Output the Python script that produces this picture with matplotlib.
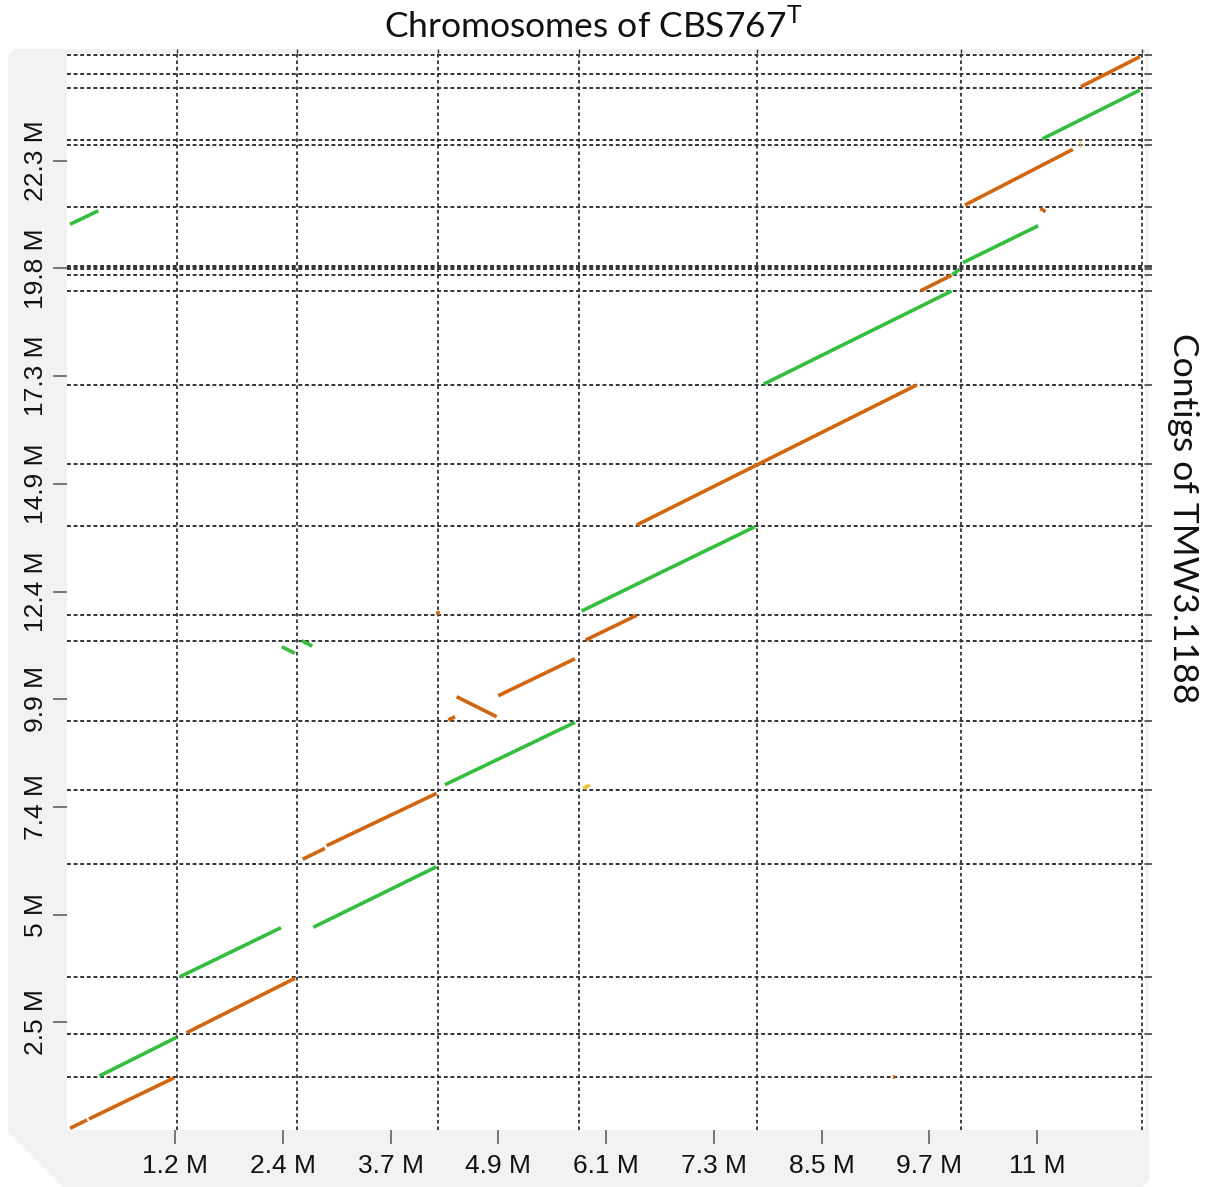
import matplotlib
matplotlib.use("Agg")
import matplotlib.pyplot as plt
from matplotlib import font_manager
from matplotlib.patches import Polygon

# ---- genome layout (Mb) ----
chrom_ends = [1.246, 2.600, 4.190, 5.785, 7.798, 10.097, 12.148]
contig_ends = [1.218, 2.207, 3.517, 6.115, 7.816, 9.409, 11.253, 11.839,
               13.897, 15.310, 17.126, 19.294, 19.662, 19.800, 19.830,
               19.860, 21.225, 22.637, 22.766, 23.966, 24.283, 24.724]

x_total = 12.18
y_total = 24.76

x_ticks = [1.218, 2.436, 3.654, 4.872, 6.090, 7.308, 8.526, 9.744, 10.962]
x_tick_labels = ['1.2 M', '2.4 M', '3.7 M', '4.9 M', '6.1 M', '7.3 M',
                 '8.5 M', '9.7 M', '11 M']
y_ticks = [2.476, 4.952, 7.428, 9.904, 12.380, 14.856, 17.332, 19.808, 22.284]
y_tick_labels = ['2.5 M', '5 M', '7.4 M', '9.9 M', '12.4 M', '14.9 M',
                 '17.3 M', '19.8 M', '22.3 M']

# ---- alignment blocks: (x_start, y_start, x_end, y_end) in Mb ----
orange_blocks = [
    (0.032, 0.039, 0.224, 0.230),
    (0.246, 0.253, 1.210, 1.202),
    (1.350, 2.237, 2.574, 3.487),
    (2.661, 6.223, 2.913, 6.476),
    (2.932, 6.536, 4.175, 7.740),
    (4.306, 9.425, 4.382, 9.501),
    (4.401, 9.961, 4.853, 9.501),
    (4.871, 9.984, 5.738, 10.834),
    (5.859, 11.264, 6.435, 11.832),
    (6.435, 13.908, 9.599, 17.126),
    (9.644, 19.294, 9.994, 19.650),
    (10.145, 21.264, 11.365, 22.545),
    (10.997, 21.189, 11.057, 21.111),
    (11.455, 23.984, 12.122, 24.674),
    (4.193, 11.830, 4.193, 11.940),
    (9.330, 1.218, 9.355, 1.222),
]
green_blocks = [
    (0.363, 1.241, 1.237, 2.131),
    (1.275, 3.524, 2.416, 4.651),
    (2.781, 4.660, 4.175, 6.053),
    (4.269, 7.938, 5.738, 9.372),
    (5.814, 11.931, 7.772, 13.869),
    (7.873, 17.149, 9.994, 19.287),
    (10.003, 19.662, 10.085, 19.790),
    (10.123, 19.940, 10.973, 20.789),
    (11.018, 22.782, 12.122, 23.908),
    (0.032, 20.821, 0.351, 21.133),
    (2.424, 11.110, 2.574, 10.959),
    (2.650, 11.248, 2.770, 11.126),
]
yellow_blocks = [
    (5.832, 7.855, 5.907, 7.931),
]
faint_blocks = [
    (11.444, 22.605, 11.444, 22.759),
]

ORANGE = '#d4650f'
GREEN = '#34be3d'
YELLOW = '#f2c12e'
GRID = '#333333'

names = {f.name for f in font_manager.fontManager.ttflist}
tick_family = 'Liberation Sans Narrow' if 'Liberation Sans Narrow' in names else 'Liberation Sans'
label_family = 'Lato' if 'Lato' in names else 'DejaVu Sans'

plt.rcParams['mathtext.fontset'] = 'custom'
plt.rcParams['mathtext.rm'] = label_family

W, H = 1210, 1187
fig = plt.figure(figsize=(W / 100, H / 100), dpi=100)
fig.patch.set_facecolor('white')


def fpt(px, py):
    return (px / W, 1 - py / H)


# light grey backing panel with a bevelled lower-left corner
panel_pts = [fpt(8, 56), fpt(14, 49), fpt(1149, 49), fpt(1149, 1181),
             fpt(1143, 1187), fpt(63, 1187), fpt(8, 1132)]
fig.patches.append(Polygon(panel_pts, closed=True, transform=fig.transFigure,
                           facecolor='#f2f2f2', edgecolor='none', zorder=-10))

ax = fig.add_axes([67.2 / W, (H - 1130) / H, 1077.8 / W, 1077 / H])
ax.set_zorder(1)
ax.set_facecolor('white')
ax.set_xlim(0, x_total)
ax.set_ylim(0, y_total)
for s in ax.spines.values():
    s.set_visible(False)

# boundary grid
for xb in chrom_ends:
    ax.axvline(xb, color=GRID, lw=1.3, dashes=(2.0, 1.6), zorder=1)
for yb in contig_ends:
    ax.axhline(yb, color=GRID, lw=1.4, dashes=(2.0, 1.4), zorder=1)

# alignment blocks
for blocks, col in ((orange_blocks, ORANGE), (green_blocks, GREEN),
                    (yellow_blocks, YELLOW)):
    for x0, y0, x1, y1 in blocks:
        ax.plot([x0, x1], [y0, y1], color=col, lw=2.6,
                solid_capstyle='butt', zorder=3)
for x0, y0, x1, y1 in faint_blocks:
    ax.plot([x0, x1], [y0, y1], color=YELLOW, lw=1.0, alpha=0.7, zorder=3)

# ticks
ax.set_xticks(x_ticks)
ax.set_xticklabels(x_tick_labels, family=tick_family, fontsize=19)
ax.set_yticks(y_ticks)
ax.set_yticklabels(y_tick_labels, family=tick_family, fontsize=19,
                   rotation=90, va='center')
ax.tick_params(axis='both', length=10, width=1.1, color='#555555',
               direction='out', labelcolor='#111111')
ax.tick_params(axis='x', pad=7)
ax.tick_params(axis='y', pad=4)

# short marks for boundaries on the right and top edges
sec_y = ax.secondary_yaxis('right')
sec_y.set_yticks(contig_ends)
sec_y.set_yticklabels([])
sec_y.tick_params(length=5, width=1.1, color='#333333')
sec_y.spines['right'].set_visible(False)
sec_x = ax.secondary_xaxis('top')
sec_x.set_xticks(chrom_ends)
sec_x.set_xticklabels([])
sec_x.tick_params(length=3, width=1.0, color='#333333')
sec_x.spines['top'].set_visible(False)

fig.text(593 / W, 1 - 25 / H, r'Chromosomes of CBS767$^{\mathrm{T}}$',
         ha='center', va='center', fontsize=25.5, family=label_family,
         color='#111111')
fig.text(1183 / W, 1 - 518 / H, 'Contigs of TMW3.1188', rotation=270,
         ha='center', va='center', fontsize=25.5, family=label_family,
         color='#111111')

fig.savefig('out.png', dpi=100, facecolor='white')
